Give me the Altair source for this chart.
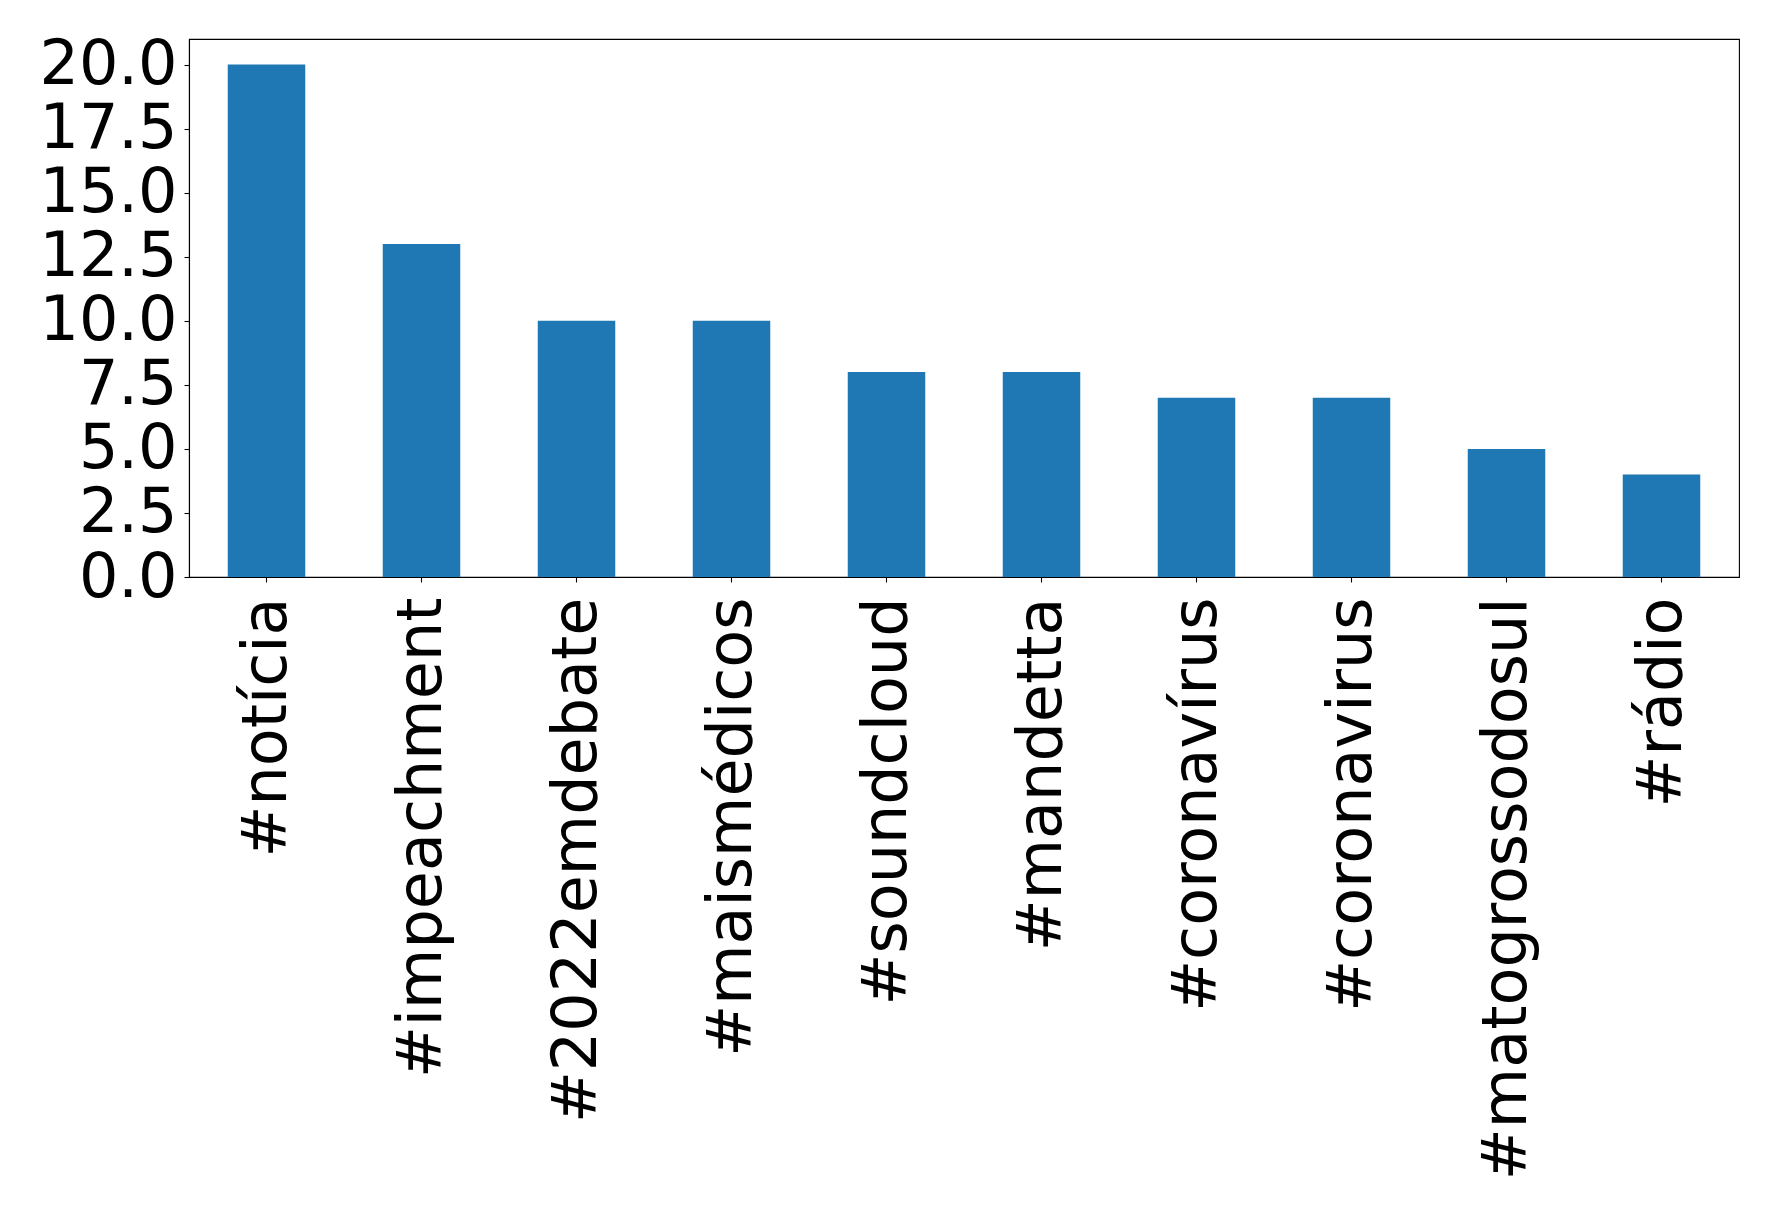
import altair as alt
import pandas as pd

tags = ["#notícia", "#impeachment", "#2022emdebate", "#maismédicos", "#soundcloud",
        "#mandetta", "#coronavírus", "#coronavirus", "#matogrossodosul", "#rádio"]
counts = [20, 13, 10, 10, 8, 8, 7, 7, 5, 4]
y_ticks = [0, 2.5, 5, 7.5, 10, 12.5, 15, 17.5, 20]

df = pd.DataFrame({"tag": tags, "count": counts})

FONT = "DejaVu Sans"
FS = 62

chart = alt.Chart(df).mark_bar(color="#1f77b4").encode(
    x=alt.X("tag:N", sort=tags, title=None,
            scale=alt.Scale(paddingInner=0.5, paddingOuter=0.25),
            axis=alt.Axis(labelAngle=270, labelAlign="right", labelBaseline="middle",
                          labelFont=FONT, labelFontSize=FS, labelColor="black",
                          labelPadding=15, tickSize=5, tickColor="black", tickWidth=1.1,
                          domainColor="black", domainWidth=1.1, grid=False,
                          labelOverlap=False, labelLimit=0)),
    y=alt.Y("count:Q", title=None,
            scale=alt.Scale(domain=[0, 21], nice=False, zero=True),
            axis=alt.Axis(values=y_ticks, format=".1f",
                          labelFont=FONT, labelFontSize=FS, labelColor="black",
                          labelPadding=7, tickSize=5, tickColor="black", tickWidth=1.1,
                          domainColor="black", domainWidth=1.1, grid=False,
                          labelOverlap=False, labelBaseline="middle",
                          minExtent=175, maxExtent=175)),
).properties(
    width=1550, height=538,
    background="white",
    padding={"left": 6, "top": 25, "right": 10, "bottom": 10},
).configure_view(
    stroke="black", strokeWidth=1.1
)

chart.save("out.html", embed_options={"renderer": "svg", "actions": False})
